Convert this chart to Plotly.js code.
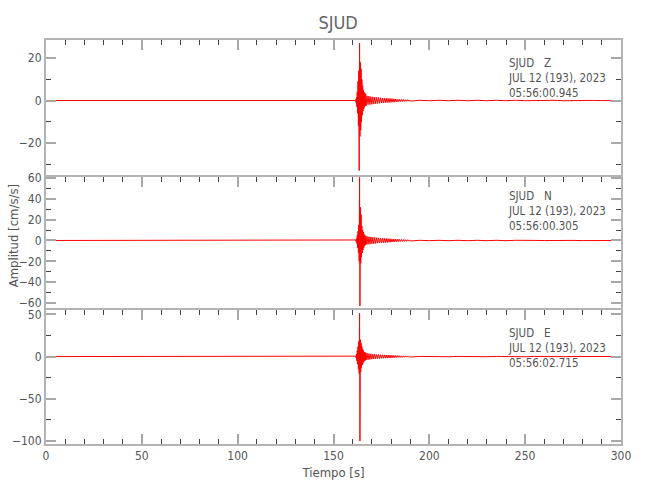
<!DOCTYPE html>
<html>
<head>
<meta charset="utf-8">
<script src="https://cdn.plot.ly/plotly-3.0.1.min.js"></script>
<style>html,body{margin:0;padding:0;background:#fff;}#chart{width:650px;height:500px;}</style>
</head>
<body>
<div id="chart"></div>
<script>
// Time samples [s]
const timePre  = [0, 161.4];
const timeBody = [161.6,161.8,162.0,162.2,162.4,162.6,162.8,163.0,163.2,163.4,163.6,163.8,164.0,164.2,
                  164.4,164.6,164.8,165.0,165.2,165.4,165.6,165.8,166.0,166.2,166.4,166.6,166.8,167.0];
const timeCoda = [167.5,168,168.5,169,169.5,170,170.5,171,171.5,172,172.5,173,173.5,174,174.5,175,
                  175.5,176,176.5,177,177.5,178,178.5,179,179.5,180,180.5,181,181.5,182,182.5,183,
                  183.5,184,184.5,185,185.5,186,186.5,187,187.5,188,188.5,189,189.5,190];
const timeTail = [195,200,205,210,215,220,225,230,235,240,245,250,255,260,265,270,275,280,285,290,295,300];

// Component Z [cm/s/s]
const zPre  = [0, 0];
const zBody = [0.5,-1,1.5,-3,4,-6,9,-12,14,-33,27,-17,18,-14,15,-10,10,-7,7,-5,5,-4,4,-3,3.5,-2.5,3,-2.5];
const zCoda = [2.2,-2,2.1,-1.9,1.8,-1.8,1.7,-1.6,1.6,-1.5,1.5,-1.4,1.4,-1.3,1.3,-1.2,1.2,-1.1,1.1,-1.0,
               1.1,-1.0,1.0,-0.9,1.0,-0.9,0.9,-0.8,0.8,-0.8,0.7,-0.7,0.6,-0.6,0.6,-0.5,0.5,-0.5,0.5,-0.4,
               0.4,-0.4,0.4,-0.3,0.3,-0.3];
const zTail = [0.1,-0.1,0.1,-0.1,0.1,-0.1,0.1,-0.1,0.1,-0.1,0.1,-0.1,0.05,-0.05,0.1,-0.1,0.05,-0.05,0.05,-0.05,0.05,0];

// Component N [cm/s/s]
const nPre  = [0, 0];
const nBody = [0.5,-1,2,-3,5,-7,9,-12,15,-20,60.6,-62.8,32,-22,25,-16,14,-12,10,-9,8,-7,6,-5,5,-4.5,4,-4];
const nCoda = [4,-3.8,3.6,-3.5,3.4,-3.2,3.1,-3,2.9,-2.8,2.7,-2.6,2.5,-2.4,2.4,-2.3,2.2,-2.1,2.1,-2,
               1.9,-1.9,1.8,-1.7,1.7,-1.6,1.5,-1.5,1.4,-1.3,1.3,-1.2,1.2,-1.1,1.1,-1,1,-0.9,0.9,-0.8,
               0.8,-0.7,0.7,-0.6,0.6,-0.5];
const nTail = [0.2,-0.2,0.2,-0.2,0.2,-0.2,0.2,-0.2,0.2,-0.2,0.2,-0.2,0.1,-0.1,0.1,-0.1,0.1,-0.1,0.1,-0.1,0.1,0];

// Component E [cm/s/s]
const ePre  = [0, 0];
const eBody = [0.5,-1.5,3,-5,7,-9,12,-15,18,-20,51,-100,20,-18,16,-13,12,-10,9,-8,7,-6,5.5,-5,5,-4.5,4.5,-4];
const eCoda = [4,-3.8,3.6,-3.4,3.2,-3,2.9,-2.8,2.7,-2.6,2.5,-2.4,2.4,-2.3,2.2,-2.1,2.1,-2,2,-1.9,
               1.9,-1.8,1.8,-1.7,1.6,-1.5,1.5,-1.4,1.3,-1.2,1.2,-1.1,1.1,-1,1,-0.9,0.9,-0.8,0.8,-0.7,
               0.7,-0.6,0.6,-0.5,0.5,-0.5];
const eTail = [0.2,-0.2,0.2,-0.2,0.2,-0.2,0.2,-0.2,0.2,-0.2,0.2,-0.2,0.2,-0.2,0.1,-0.1,0.1,-0.1,0.1,-0.1,0.1,0];

// Header labels
const station = "SJUD";
const components = ["Z", "N", "E"];
const dateLabel = "JUL 12 (193), 2023";
const startTimes = ["05:56:00.945", "05:56:00.305", "05:56:02.715"];
const xTitle = "Tiempo [s]";
const yTitle = "Amplitud [cm/s/s]";

const time = [...timePre, ...timeBody, ...timeCoda, ...timeTail];
const series = [
  [...zPre, ...zBody, ...zCoda, ...zTail],
  [...nPre, ...nBody, ...nCoda, ...nTail],
  [...ePre, ...eBody, ...eCoda, ...eTail]
];

const FONT = "'DejaVu Sans Condensed', 'Liberation Sans Narrow', 'DejaVu Sans', sans-serif";
const TXT = '#555555';
const AX = '#b4b4b4';

// panel order: Z top (x3/y3), N middle (x2/y2), E bottom (x/y)
const axisIds = [['x3','y3'], ['x2','y2'], ['x','y']];
const traces = series.map((vals, i) => ({
  type: 'scatter', mode: 'lines', x: time, y: vals,
  xaxis: axisIds[i][0], yaxis: axisIds[i][1],
  line: {color: '#ff0000', width: 1}, hoverinfo: 'skip', showlegend: false
}));

const minorY = (d) => ({ticks: 'inside', dtick: d, ticklen: 5, tickwidth: 1, tickcolor: '#444444', showgrid: false});

const xCommon = {
  range: [0, 300], showgrid: false, zeroline: false,
  showline: true, linecolor: AX, linewidth: 2,
  ticks: 'inside', tick0: 0, dtick: 50, ticklen: 10, tickwidth: 2, tickcolor: '#a8a8a8',
  minor: {ticks: 'inside', dtick: 10, ticklen: 5, tickwidth: 1, tickcolor: '#444444', showgrid: false},
  tickfont: {family: FONT, size: 12, color: TXT}
};
const yCommon = {
  showgrid: false, zeroline: false, showline: true, linecolor: AX, linewidth: 2,
  mirror: 'ticks', ticks: 'inside', ticklen: 10, tickwidth: 2, tickcolor: '#a8a8a8',
  tickfont: {family: FONT, size: 12, color: TXT}
};

const layout = {
  width: 650, height: 500,
  margin: {l: 46, r: 29, t: 40, b: 56},
  paper_bgcolor: '#ffffff', plot_bgcolor: '#ffffff',
  font: {family: FONT, color: TXT},
  title: {text: station, font: {family: FONT, size: 18, color: '#666666'},
          xref: 'paper', x: 0.508, xanchor: 'center', yref: 'container', y: 0.955, yanchor: 'middle'},
  xaxis: Object.assign({}, xCommon, {anchor: 'y', mirror: 'ticks',
          title: {text: xTitle, font: {family: FONT, size: 13, color: TXT}, standoff: 5}}),
  xaxis2: Object.assign({}, xCommon, {anchor: 'y2', matches: 'x', side: 'top', showticklabels: false}),
  xaxis3: Object.assign({}, xCommon, {anchor: 'y3', matches: 'x', side: 'top', showticklabels: false}),
  yaxis: Object.assign({}, yCommon, {domain: [0, 0.3317], anchor: 'x', range: [-103.4, 55.1], dtick: 50, tick0: 0,
          minor: minorY(25)}),
  yaxis2: Object.assign({}, yCommon, {domain: [0.3317, 0.6621], anchor: 'x2', range: [-66.7, 61.4], dtick: 20, tick0: 0,
          minor: minorY(10)}),
  yaxis3: Object.assign({}, yCommon, {domain: [0.6621, 1], anchor: 'x3', range: [-35.8, 28.5], dtick: 20, tick0: 0,
          minor: minorY(10)}),
  annotations: []
};

// header text block per panel (top line position in paper coords)
const blockTop = [0.9650, 0.6350, 0.2965];
components.forEach((c, i) => {
  const text = station + '\u00a0\u00a0\u00a0' + c + '<br>' + dateLabel + '<br>' + startTimes[i];
  layout.annotations.push({
    text: text, xref: 'paper', yref: 'paper', x: 0.80, y: blockTop[i],
    xanchor: 'left', yanchor: 'top', align: 'left', showarrow: false,
    font: {family: FONT, size: 11.5, color: TXT}
  });
});
layout.annotations.push({
  text: yTitle, xref: 'paper', yref: 'paper', x: -0.056, y: 0.516,
  xanchor: 'center', yanchor: 'middle', textangle: -90, showarrow: false,
  font: {family: FONT, size: 13, color: TXT}
});

Plotly.newPlot('chart', traces, layout, {displayModeBar: false, staticPlot: true});
</script>
</body>
</html>
